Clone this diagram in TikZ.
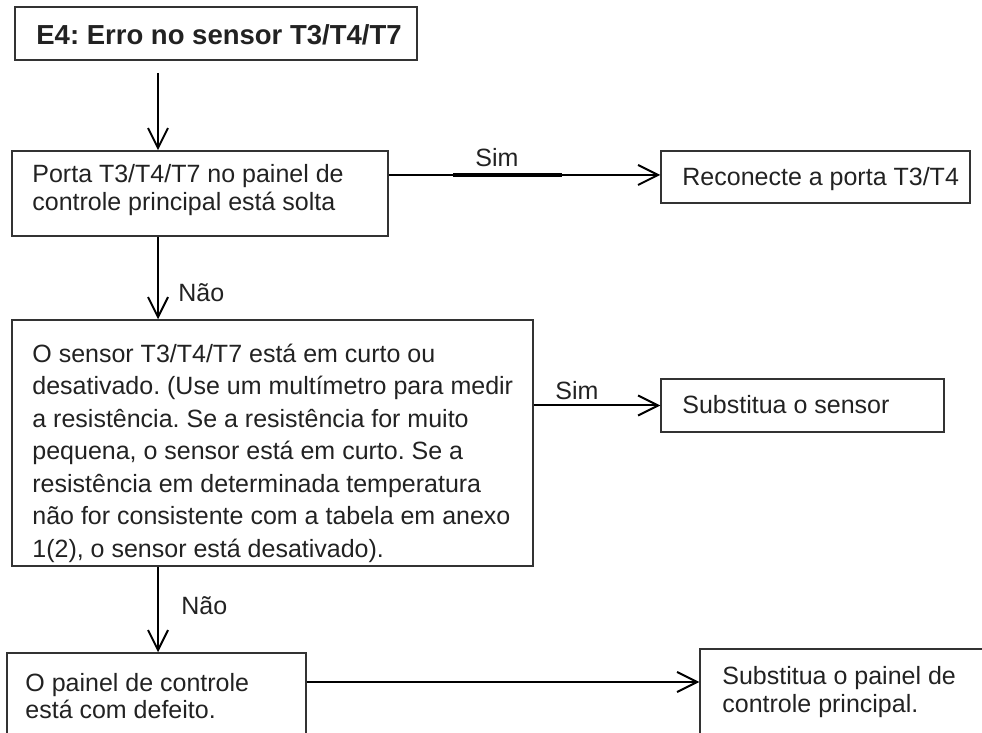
\documentclass[tikz,border=0pt]{standalone}
\usepackage{fontspec}
\setmainfont{Liberation Sans}
\usetikzlibrary{arrows.meta,fit}
\definecolor{boxgray}{HTML}{333333}
\definecolor{txtgray}{HTML}{222222}
\frenchspacing
\begin{document}
\begin{tikzpicture}[x=0.5pt,y=-0.5pt,
  box/.style={draw=boxgray, line width=0.75pt, inner sep=0pt},
  txt/.style={anchor=west, inner sep=0pt, align=left, text=txtgray, font=\frenchspacing\fontsize{12.5pt}{13.75pt}\selectfont},
  txtwide/.style={txt, font=\frenchspacing\fontsize{12.5pt}{16.25pt}\selectfont},
  ttl/.style={anchor=west, inner sep=0pt, text=txtgray, font=\frenchspacing\bfseries\fontsize{13.75pt}{16pt}\selectfont},
  arr/.style={draw=black, line width=1pt, -{Straight Barb[length=10pt,width=10pt,line width=1pt]}},
  thick seg/.style={draw=black, line width=2pt},
]
\useasboundingbox (0,0) rectangle (982,733);
\clip (0,0) rectangle (982,733);

% boxes
\node[box, fit={(15,7) (417,60)}] (b1) {};
\node[box, fit={(12,151) (388,236)}] (b2) {};
\node[box, fit={(661,151) (970,203)}] (b3) {};
\node[box, fit={(12,320) (533,566)}] (b4) {};
\node[box, fit={(661,379) (944,432)}] (b5) {};
\node[box, fit={(7,653) (306,760)}] (b6) {};
\node[box, fit={(700,649) (995,760)}] (b7) {};

% texts
\node[ttl] (t1) at (36,35) {E4: Erro no sensor T3/T4/T7};
\node[txt] (t2) at (32,190) {Porta T3/T4/T7 no painel de\\controle principal está solta};
\node[txt] (t3) at (682,179) {Reconecte a porta T3/T4};
\node[txtwide] (t4) at (32,453) {O sensor T3/T4/T7 está em curto ou\\desativado. (Use um multímetro para medir\\a resistência. Se a resistência for muito\\pequena, o sensor está em curto. Se a\\resistência em determinada temperatura\\não for consistente com a tabela em anexo\\1(2), o sensor está desativado).};
\node[txt] (t5) at (682,405) {Substitua o sensor};
\node[txt] (t6) at (25,696) {O painel de controle\\está com defeito.};
\node[txt] (t7) at (722,692) {Substitua o painel de\\controle principal.};

% labels
\node[txt] (s1) at (475,158) {Sim};
\node[txt] (s2) at (555,391) {Sim};
\node[txt] (n1) at (178,293) {Não};
\node[txt] (n2) at (181,606) {Não};

% helper coordinates
\coordinate (cx) at (158,0);
\coordinate (a1s) at (158,73);
\coordinate (r1) at (0,175);
\coordinate (r3) at (0,682);
\coordinate (k1) at (453,175);
\coordinate (k2) at (562,175);

% connectors
\draw[arr] (a1s) -- (b2.north -| cx);
\draw[arr] (b2.east |- r1) -- (b3.west |- r1);
\draw[thick seg] (k1) -- (k2);
\draw[arr] (b2.south -| cx) -- (b4.north -| cx);
\draw[arr] (b4.east |- b5.west) -- (b5.west);
\draw[arr] (b4.south -| cx) -- (b6.north -| cx);
\draw[arr] (b6.east |- r3) -- (b7.west |- r3);
\end{tikzpicture}
\end{document}
